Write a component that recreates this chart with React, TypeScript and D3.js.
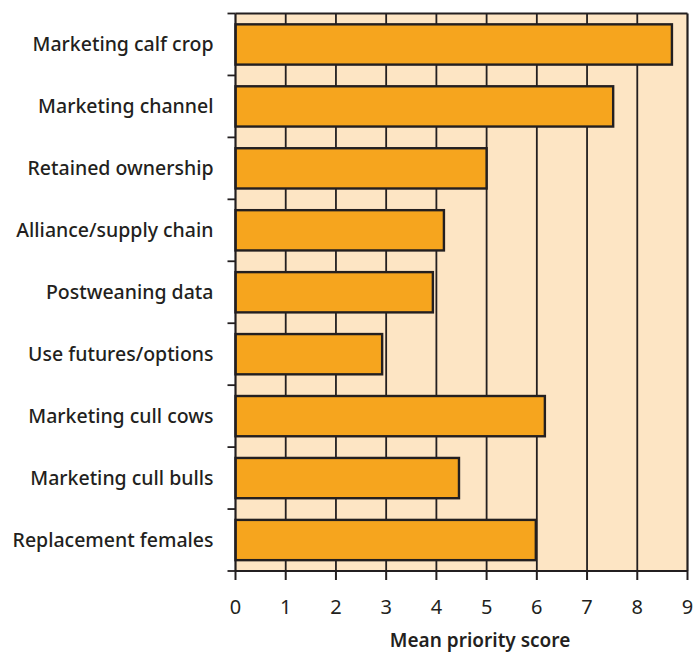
import { useEffect, useRef } from "react";
import * as d3 from "d3";

const categories = [
  "Marketing calf crop",
  "Marketing channel",
  "Retained ownership",
  "Alliance/supply chain",
  "Postweaning data",
  "Use futures/options",
  "Marketing cull cows",
  "Marketing cull bulls",
  "Replacement females",
];
const scores = [8.69, 7.52, 5.0, 4.15, 3.93, 2.92, 6.16, 4.45, 5.98];
const xTicks = [0, 1, 2, 3, 4, 5, 6, 7, 8, 9];

export default function App() {
  const svgRef = useRef<SVGSVGElement>(null);

  useEffect(() => {
    if (!svgRef.current) return;
    const svg = d3.select(svgRef.current);
    svg.selectAll("*").remove();

    const width = 695;
    const height = 652;
    const margin = { top: 13.5, right: 7.5, bottom: 81, left: 235.5 };
    const w = width - margin.left - margin.right;
    const h = height - margin.top - margin.bottom;
    const ink = "#231f20";
    const font = "'Noto Sans', sans-serif";

    const g = svg.append("g").attr("transform", `translate(${margin.left},${margin.top})`);

    const x = d3.scaleLinear().domain([0, 9]).range([0, w]);
    const y = d3.scaleBand().domain(categories).range([0, h]).paddingInner(0.35).paddingOuter(0.175);
    const step = y.step();

    g.append("rect").attr("width", w).attr("height", h).style("fill", "#fde5c4");

    // vertical grid
    g.selectAll(".grid")
      .data(xTicks.slice(1, -1))
      .enter()
      .append("line")
      .attr("x1", (d) => x(d))
      .attr("x2", (d) => x(d))
      .attr("y1", 0)
      .attr("y2", h)
      .style("stroke", ink)
      .style("stroke-width", 1.8);

    g.append("line").attr("x1", 0).attr("x2", w).attr("y1", 0).attr("y2", 0)
      .style("stroke", ink).style("stroke-width", 1.8);
    g.append("line").attr("x1", 0).attr("x2", w).attr("y1", h).attr("y2", h)
      .style("stroke", ink).style("stroke-width", 1.8);
    g.append("line").attr("x1", w).attr("x2", w).attr("y1", 0).attr("y2", h)
      .style("stroke", ink).style("stroke-width", 2.2);

    // bars
    g.selectAll(".bar")
      .data(categories)
      .enter()
      .append("rect")
      .attr("x", 0)
      .attr("y", (d) => y(d)!)
      .attr("width", (d, i) => x(scores[i]))
      .attr("height", y.bandwidth())
      .style("fill", "#f6a51e")
      .style("stroke", ink)
      .style("stroke-width", 2.4);

    // left axis line + band ticks
    g.append("line").attr("x1", 0).attr("x2", 0).attr("y1", 0).attr("y2", h)
      .style("stroke", ink).style("stroke-width", 2.2);
    g.selectAll(".ytick")
      .data(d3.range(categories.length + 1))
      .enter()
      .append("line")
      .attr("x1", -8)
      .attr("x2", 0)
      .attr("y1", (i) => i * step)
      .attr("y2", (i) => i * step)
      .style("stroke", ink)
      .style("stroke-width", 1.8);

    g.selectAll(".ylabel")
      .data(categories)
      .enter()
      .append("text")
      .attr("x", -22)
      .attr("y", (d) => y(d)! + y.bandwidth() / 2)
      .attr("dy", "0.35em")
      .attr("text-anchor", "end")
      .style("font-family", font)
      .style("font-size", "19.5px")
      .style("font-weight", 500)
      .style("fill", ink)
      .text((d) => d);

    // bottom ticks
    g.selectAll(".xtick")
      .data(xTicks)
      .enter()
      .append("line")
      .attr("x1", (d) => x(d))
      .attr("x2", (d) => x(d))
      .attr("y1", h)
      .attr("y2", h + 9)
      .style("stroke", ink)
      .style("stroke-width", 2);

    g.selectAll(".xlabel")
      .data(xTicks)
      .enter()
      .append("text")
      .attr("x", (d) => x(d))
      .attr("y", h + 36)
      .attr("dy", "0.35em")
      .attr("text-anchor", "middle")
      .style("font-family", font)
      .style("font-size", "20px")
      .style("fill", ink)
      .text((d) => d);

    g.append("text")
      .attr("x", x(4.87))
      .attr("y", h + 69)
      .attr("dy", "0.35em")
      .attr("text-anchor", "middle")
      .style("font-family", font)
      .style("font-size", "19px")
      .style("font-weight", 600)
      .style("fill", ink)
      .text("Mean priority score");
  }, []);

  return (
    <svg
      ref={svgRef}
      width={695}
      height={652}
      style={{ position: "absolute", left: 0, top: 0, background: "#fff" }}
    />
  );
}
